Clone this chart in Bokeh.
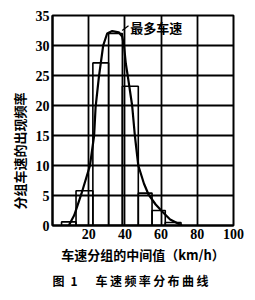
from bokeh.plotting import figure
from bokeh.models import Range1d, FixedTicker, Label, Title
from bokeh.embed import file_html
from bokeh.resources import INLINE

# histogram bins (km/h) and frequencies (%)
bin_left = [5, 13, 22.3, 31, 38.6, 47.4, 55, 62.3]
bin_right = [13, 22.3, 31, 38.6, 47.4, 55, 62.3, 71]
freq = [0.6, 5.8, 27.1, 32.0, 23.2, 5.4, 2.5, 0.5]

# smooth frequency curve
curve_x = [9, 12, 16, 20.7, 23, 23.8, 25.6, 28, 30.2, 33, 36.6, 38.5, 39.5, 40.5,
           41.7, 44, 45.5, 47.4, 50.5, 53, 57, 61, 65, 71.5]
curve_y = [0, 1.7, 5.3, 10, 15, 19.7, 24.7, 30, 32, 32.4, 32.2, 31.5, 30, 27,
           24.7, 20, 15, 10, 7, 5.2, 3.5, 2.2, 1, 0]

x_ticks = [0, 20, 40, 60, 80, 100]
y_ticks = [0, 5, 10, 15, 20, 25, 30, 35]

annot_text = "最多车速"
annot_x, annot_y = 43.0, 33.0
leader_x = [38.5, 42.0]
leader_y = [32.5, 33.3]

y_title = "分组车速的出现频率"
x_title = "车速分组的中间值（km/h）"

CJK = "Noto Sans CJK SC"
SERIF = "Liberation Serif"

p = figure(width=255, height=300, output_backend="svg", toolbar_location=None,
           x_range=Range1d(0, 100), y_range=Range1d(0, 35),
           min_border_left=52, min_border_right=22, min_border_top=15,
           min_border_bottom=75)
p.background_fill_color = "white"
p.border_fill_color = "white"
p.outline_line_color = "black"
p.outline_line_width = 2

p.xaxis.ticker = FixedTicker(ticks=x_ticks)
p.yaxis.ticker = FixedTicker(ticks=y_ticks)
p.xaxis.major_label_overrides = {0: ""}
for ax in (p.xaxis, p.yaxis):
    ax.major_tick_out = 0
    ax.major_tick_in = 0
    ax.minor_tick_out = 0
    ax.minor_tick_in = 0
    ax.axis_line_color = "black"
    ax.axis_line_width = 2
    ax.major_label_text_font = SERIF
    ax.major_label_text_font_style = "bold"
    ax.major_label_text_font_size = "14px"
    ax.major_label_text_color = "black"
    ax.major_label_standoff = 3
    ax.axis_label_text_font = CJK
    ax.axis_label_text_font_style = "bold"
    ax.axis_label_text_font_size = "13px"
    ax.axis_label_text_color = "black"

p.xaxis.axis_label = x_title
p.xaxis.axis_label_standoff = 3

p.xgrid.grid_line_color = "black"
p.ygrid.grid_line_color = "black"
p.xgrid.grid_line_width = 1.8
p.ygrid.grid_line_width = 1.8
p.xgrid.grid_line_alpha = 1
p.ygrid.grid_line_alpha = 1

p.quad(left=bin_left, right=bin_right, bottom=0, top=freq,
       fill_color=None, line_color="black", line_width=1.6)
p.line(curve_x, curve_y, line_color="black", line_width=2.2)
p.line(leader_x, leader_y, line_color="black", line_width=1.2)

p.add_layout(Label(x=annot_x, y=annot_y, text=annot_text, text_font=CJK,
                   text_font_style="bold", text_font_size="13px",
                   text_baseline="middle", text_color="black"))

# vertical y-axis title as a left-side title, anchored from its bottom end
ytitle = Title(text=y_title, align="left", offset=16, text_font=CJK,
               text_font_style="bold", text_font_size="13px",
               text_color="black", standoff=7)
p.add_layout(ytitle, "left")

cap_text = "图\u20021\u2003\u2002车\u2009速\u2009频\u2009率\u2009分\u2009布\u2009曲\u2009线"
cap = Title(text=cap_text, align="left", offset=0,
            text_font=CJK, text_font_style="bold", text_font_size="12px",
            text_color="black", standoff=6)
p.add_layout(cap, "below")

open("out.html", "w").write(file_html(p, INLINE))
